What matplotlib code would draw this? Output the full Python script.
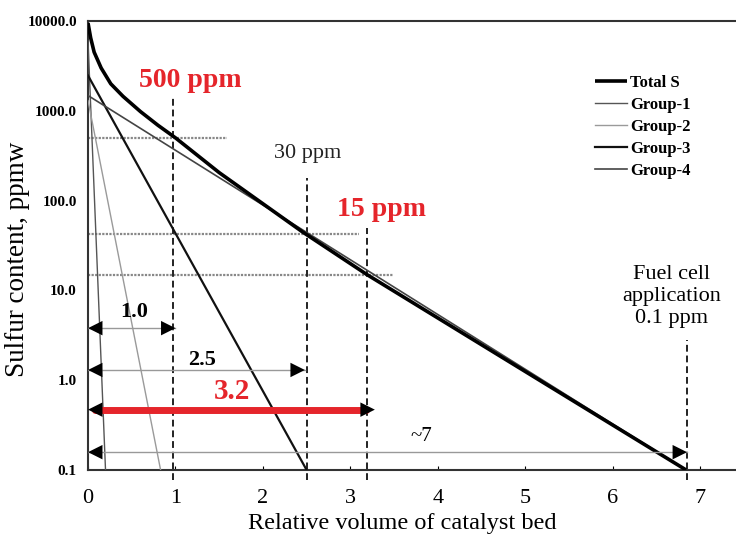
import numpy as np
import matplotlib.pyplot as plt
from matplotlib.ticker import FixedLocator, FixedFormatter

plt.rcParams['font.family'] = ['Liberation Serif', 'DejaVu Serif']

# total sulfur along the bed (ppmw)
total_x = [0.0, 0.03, 0.07, 0.15, 0.26, 0.40, 0.60, 0.80, 1.00, 1.50, 2.45, 3.19, 6.84]
total_y = [9500, 6500, 4500, 3000, 2000, 1450, 980, 690, 500, 205, 45, 15, 0.1]

# each sulfur group decays as a straight line on the log scale: (start, end)
group_names = ['Group-1', 'Group-2', 'Group-3', 'Group-4']
group_x = [[0.0, 0.20], [0.0, 0.83], [0.0, 2.50], [0.0, 6.84]]
group_y = [[6000, 0.1], [1300, 0.1], [2470, 0.1], [1480, 0.1]]
group_colors = ['#555555', '#9a9a9a', '#111111', '#444444']
group_lw = [1.0, 1.0, 1.6, 1.2]

# reference sulfur levels (ppm) and bed volumes where they are reached
level_y = [500, 42, 15]
level_xmax = [1.59, 3.10, 3.49]
cut_x = [0.97, 2.50, 3.19, 6.85]
cut_top = [1400, 180, 50, 2.8]

# bed volume spans
span_labels = ['1.0', '2.5', '3.2', '~7']
span_end = [1.0, 2.48, 3.28, 6.85]
span_y = [3.8, 1.3, 0.47, 0.158]

ytick_vals = [0.1, 1, 10, 100, 1000, 10000]
ytick_labels = ['0.1', '1.0', '10.0', '100.0', '1000.0', '10000.0']

red = '#e5252b'

fig = plt.figure(figsize=(7.36, 5.39), dpi=100)
ax = fig.add_axes([0.1196, 0.128, 0.8804, 0.833])
ax.set_yscale('log')
ax.set_xlim(0, 7.41)
ax.set_ylim(0.1, 10000)

# horizontal reference levels
for yv, xm in zip(level_y, level_xmax):
    ax.plot([0, xm], [yv, yv], color='#888888', lw=1.6, ls=(0, (1, 0.6)), zorder=1)

# vertical cut-off lines
for xv, yt in zip(cut_x, cut_top):
    ax.plot([xv, xv], [0.078, yt], color='#222222', lw=1.4, ls=(0, (3.5, 2)),
            zorder=2, clip_on=False)

# group curves
for name, xs, ys, c, lw in zip(group_names, group_x, group_y, group_colors, group_lw):
    ax.plot(xs, ys, color=c, lw=lw, label=name, zorder=3)

ax.plot(total_x, total_y, color='black', lw=2.6, label='Total S', zorder=4,
        solid_capstyle='butt')

# span arrows
for lab, xe, yv in zip(span_labels, span_end, span_y):
    if lab == '3.2':
        ax.plot([0.08, xe - 0.1], [yv, yv], color=red, lw=5,
                solid_capstyle='round', zorder=5)
    else:
        ax.plot([0.0, xe], [yv, yv], color='#999999', lw=1.0, zorder=5)
    ax.annotate('', xy=(xe, yv), xytext=(0.0, yv),
                arrowprops=dict(arrowstyle='<|-|>', color='black', lw=0,
                                mutation_scale=26, shrinkA=0, shrinkB=0),
                zorder=6)

# annotations
ax.text(1.17, 2200, '500 ppm', color=red, fontsize=20, fontweight='bold',
        ha='center', va='center')
ax.text(2.51, 339, '30 ppm', color='#222222', fontsize=16, ha='center', va='center')
ax.text(3.36, 79, '15 ppm', color=red, fontsize=20, fontweight='bold',
        ha='center', va='center')
ax.text(0.53, 5.7, '1.0', fontsize=16, fontweight='bold', ha='center', va='center')
ax.text(1.30, 1.68, '2.5', fontsize=16, fontweight='bold', ha='center', va='center')
ax.text(1.65, 0.74, '3.2', color=red, fontsize=21, fontweight='bold',
        ha='center', va='center')
ax.text(3.81, 0.234, '~7', fontsize=15, ha='center', va='center')
ax.text(6.67, 8.6, 'Fuel cell\napplication\n0.1 ppm', fontsize=16,
        ha='center', va='center', linespacing=1.2)

# axes styling
ax.yaxis.set_major_locator(FixedLocator(ytick_vals))
ax.yaxis.set_major_formatter(FixedFormatter(ytick_labels))
ax.yaxis.set_minor_locator(FixedLocator([]))
ax.set_xticks(range(8))
for lbl in ax.get_yticklabels():
    lbl.set_fontweight('bold')
ax.tick_params(axis='y', labelsize=11, length=0, pad=8)
ax.tick_params(axis='x', labelsize=16, length=3, direction='in', pad=14)

for side in ['left', 'bottom', 'top']:
    ax.spines[side].set_color('#333333')
    ax.spines[side].set_linewidth(1.5)
ax.spines['right'].set_visible(False)

ax.set_xlabel('Relative volume of catalyst bed', fontsize=17.5)
ax.xaxis.set_label_coords(0.485, -0.095)
ax.set_ylabel('Sulfur content, ppmw', fontsize=19.5)
ax.yaxis.set_label_coords(-0.09, 0.47)

handles, labels = ax.get_legend_handles_labels()
order = [4, 0, 1, 2, 3]
ax.legend([handles[i] for i in order], [labels[i] for i in order],
          loc='upper left', bbox_to_anchor=(0.797, 0.876),
          bbox_transform=fig.transFigure, frameon=False, borderpad=0,
          handlelength=1.9, handletextpad=0.2, labelspacing=0.35,
          prop={'family': 'Liberation Serif', 'weight': 'bold', 'size': 12})

fig.savefig('out.png', dpi=100)
